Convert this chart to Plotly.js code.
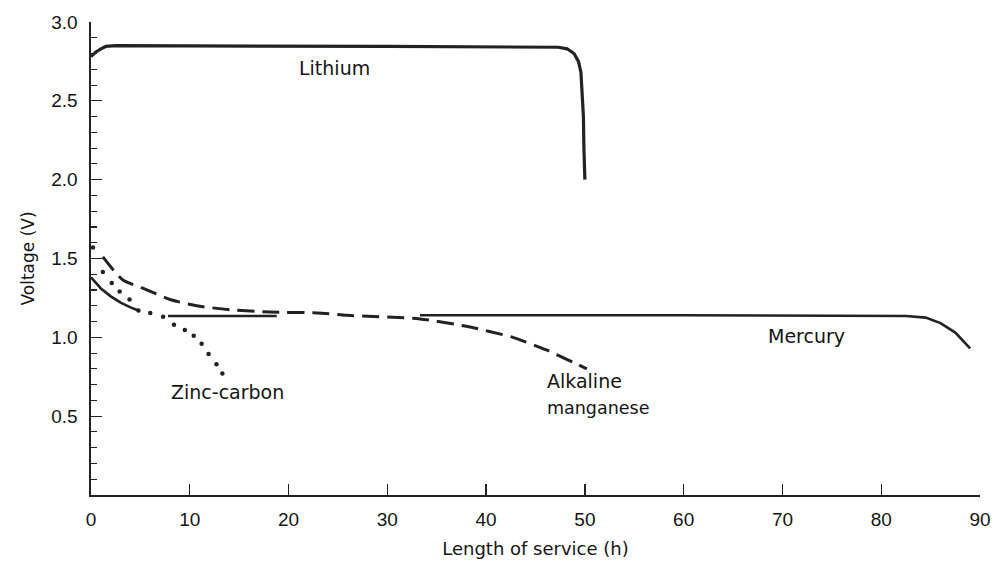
<!DOCTYPE html>
<html>
<head>
<meta charset="utf-8">
<script src="https://cdn.plot.ly/plotly-3.0.1.min.js"></script>
<style>html,body{margin:0;padding:0;background:#fff;}#chart{width:1002px;height:563px;}</style>
</head>
<body>
<div id="chart"></div>
<script>
// Lithium (solid)
const lithiumX = [0, 0.5, 1, 1.5, 2.5, 10, 30, 47.3, 48.2, 48.9, 49.35, 49.6, 49.75, 49.85, 49.9, 50.0];
const lithiumY = [2.78, 2.81, 2.83, 2.845, 2.85, 2.85, 2.845, 2.84, 2.83, 2.80, 2.75, 2.68, 2.55, 2.4, 2.2, 2.0];

// Mercury (solid, partly hidden by other curves)
const mercuryX = [0, 1, 2, 3, 4, 4.8, null, 7.8, 18.8, null, 33.3, 60, 82.5, 84.5, 86, 87.5, 89];
const mercuryY = [1.38, 1.31, 1.26, 1.22, 1.19, 1.17, null, 1.135, 1.135, null, 1.14, 1.14, 1.135, 1.125, 1.09, 1.03, 0.93];

// Zinc-carbon (dotted)
const zincX = [0.2, 1.2, 2.1, 2.9, 3.9, 4.8, 6.0, 7.3, 8.4, 9.5, 10.4, 11.2, 11.9, 12.7, 13.3];
const zincY = [1.57, 1.415, 1.345, 1.29, 1.24, 1.17, 1.155, 1.13, 1.08, 1.047, 1.01, 0.96, 0.895, 0.83, 0.77];

// Alkaline manganese (dashed)
const alkalineX = [1.2, 3.2, 5.7, 8, 10.7, 14.1, 18.1, 22.9, 25.9, 33.3, 38, 42.7, 46.1, 50.2];
const alkalineY = [1.51, 1.365, 1.30, 1.24, 1.20, 1.175, 1.16, 1.155, 1.14, 1.117, 1.07, 1.0, 0.92, 0.80];

// Curve labels
const labelText = ["Lithium", "Zinc-carbon", "Alkaline", "manganese", "Mercury"];
const labelX = [24.7, 13.8, 46.0, 46.0, 72.4];
const labelY = [2.71, 0.655, 0.72, 0.55, 1.01];

const xTicks = [0, 10, 20, 30, 40, 50, 60, 70, 80, 90];
const yTicks = [0.5, 1.0, 1.5, 2.0, 2.5, 3.0];
const yTickText = ["0.5", "1.0", "1.5", "2.0", "2.5", "3.0"];

const ink = "#222222";
const textInk = "#151515";
const labelFont = "DejaVu Sans, Verdana, sans-serif";
const tickFontFamily = "Liberation Sans, Arial, sans-serif";

const traces = [
  {x: lithiumX, y: lithiumY, mode: "lines", line: {color: ink, width: 3.2}, connectgaps: false},
  {x: mercuryX, y: mercuryY, mode: "lines", line: {color: ink, width: 2.6}, connectgaps: false},
  {x: alkalineX, y: alkalineY, mode: "lines", line: {color: ink, width: 3, dash: "17px,8px", shape: "spline", smoothing: 0.6}},
  {x: zincX, y: zincY, mode: "markers", marker: {color: ink, size: 4.5}}
];

const annotations = labelText.map((t, i) => ({
  x: labelX[i], y: labelY[i], xref: "x", yref: "y", text: t, showarrow: false,
  xanchor: (t === "Alkaline" || t === "manganese") ? "left" : "center", yanchor: "middle",
  font: {family: labelFont, size: t === "manganese" ? 17.5 : 19, color: textInk}
}));

const layout = {
  width: 1002, height: 563,
  margin: {l: 91, r: 22, t: 22, b: 68},
  paper_bgcolor: "#fff", plot_bgcolor: "#fff",
  showlegend: false,
  xaxis: {
    range: [0, 90], tickvals: xTicks, ticktext: xTicks.map(String),
    ticks: "inside", ticklen: 11, tickwidth: 1.3, tickcolor: ink,
    showline: true, linecolor: ink, linewidth: 1.6, showgrid: false, zeroline: false,
    ticklabelstandoff: 7,
    tickfont: {family: tickFontFamily, size: 19, color: textInk},
    title: {text: "Length of service (h)", font: {family: labelFont, size: 18, color: textInk}, standoff: 13}
  },
  yaxis: {
    range: [0, 3.0], tickvals: yTicks, ticktext: yTickText,
    ticks: "inside", ticklen: 11, tickwidth: 1.3, tickcolor: ink,
    minor: {dtick: 0.1, tick0: 0, ticks: "inside", ticklen: 6, tickwidth: 1.1, tickcolor: ink, showgrid: false},
    showline: true, linecolor: ink, linewidth: 1.6, showgrid: false, zeroline: false,
    ticklabelstandoff: 8,
    tickfont: {family: tickFontFamily, size: 19, color: textInk},
    title: {text: "Voltage (V)", font: {family: labelFont, size: 17, color: textInk}, standoff: 12}
  },
  annotations: annotations
};

Plotly.newPlot("chart", traces, layout, {displayModeBar: false, staticPlot: true});
</script>
</body>
</html>
